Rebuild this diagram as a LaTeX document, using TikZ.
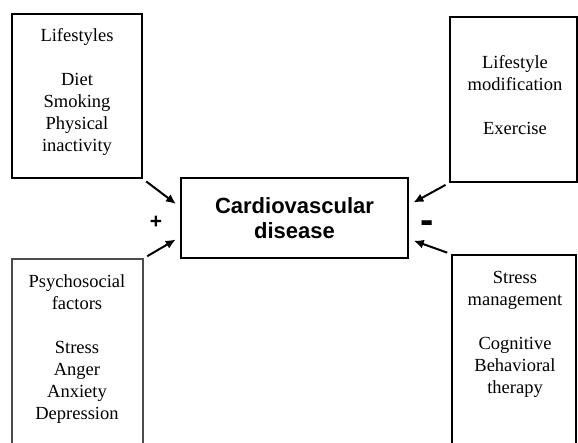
\documentclass[tikz,border=0pt]{standalone}
\usepackage{fontspec}
\setmainfont{Liberation Serif}
\setsansfont{Liberation Sans}
\usetikzlibrary{arrows.meta}
\begin{document}
\begin{tikzpicture}[x=1pt,y=-1pt,
    box/.style={draw,line width=2pt,inner sep=0pt},
    txt/.style={align=center,font=\fontsize{18.5}{22}\selectfont},
    sign/.style={font=\sffamily\bfseries}]
      \useasboundingbox (0,0) rectangle (578,442);
      \clip (0,0) rectangle (578,442);
      % boxes
      \node[box,minimum width=130pt,minimum height=164pt] (life) at (77,96) {};
      \node[box,minimum width=127pt,minimum height=165pt] (mod) at (513.5,99.5) {};
      \node[box,draw=black!70,line width=1.5pt,minimum width=131pt,minimum height=200pt] (psy) at (77.5,359) {};
      \node[box,minimum width=124pt,minimum height=200pt] (stress) at (514,355) {};
      \node[box,minimum width=227pt,minimum height=80pt,align=center,
        font=\fontsize{22}{25}\selectfont\sffamily\bfseries] (cvd) at (294.5,218) {Cardiovascular\\disease};
      % texts
      \node[txt] (lifet) at (77,92) {Lifestyles\\[22pt]Diet\\Smoking\\Physical\\inactivity};
      \node[txt] (modt) at (515,95.5) {Lifestyle\\modification\\[22pt]Exercise};
      \node[txt] (psyt) at (77,349) {Psychosocial\\factors\\[22pt]Stress\\Anger\\Anxiety\\Depression};
      \node[txt] (stresst) at (515,334) {Stress\\management\\[22pt]Cognitive\\Behavioral\\therapy};
      \node[sign,font=\fontsize{21}{21}\selectfont\sffamily\bfseries] (plus) at (156,222) {+};
      \node[sign,font=\fontsize{40}{40}\selectfont\sffamily\bfseries] (minus) at (427,227) {-};
      % arrows
      \begin{scope}[line width=2pt,-{Latex[length=10pt,width=9pt]},shorten <=4pt,shorten >=5pt]
        \draw (life.south east) -- ([yshift=11pt]cvd.west);
        \draw (psy.north east) -- ([yshift=-19pt]cvd.west);
        \draw (mod.south west) -- ([yshift=13pt]cvd.east);
        \draw (stress.north west) -- ([yshift=-21pt]cvd.east);
      \end{scope}
    \end{tikzpicture}
\end{document}
